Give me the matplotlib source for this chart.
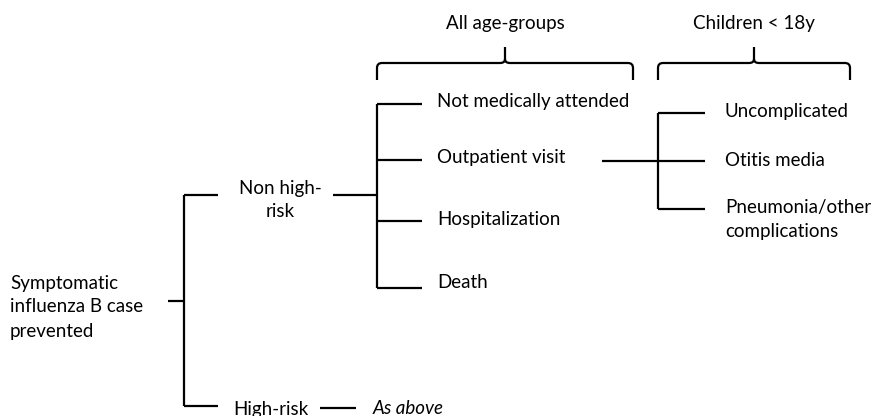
import matplotlib.pyplot as plt
from matplotlib.path import Path
from matplotlib.patches import PathPatch

plt.rcParams['font.family'] = ['Lato', 'DejaVu Sans']

# tree content
root_label = "Symptomatic\ninfluenza B case\nprevented"
risk_labels = ["Non high-\nrisk", "High-risk"]
outcome_labels = ["Not medically attended", "Outpatient visit", "Hospitalization", "Death"]
child_labels = ["Uncomplicated", "Otitis media", "Pneumonia/other\ncomplications"]
high_risk_note = "As above"
group_labels = ["All age-groups", "Children < 18y"]

# layout (pixel coordinates of the 875x416 canvas)
risk_y = [195, 406]
outcome_y = [104, 160, 221, 288]
outcome_text_y = [102, 157, 219, 282]
child_y = [113, 161, 209]
child_text_y = [112, 161, 220]
brace_spans = [(377, 633), (658, 850)]

fig = plt.figure(figsize=(8.75, 4.16), dpi=100)
ax = fig.add_axes([0, 0, 1, 1])
ax.set_xlim(0, 875)
ax.set_ylim(416, 0)
ax.axis('off')

lw = 1.6
fs = 13.5


def line(xs, ys):
    ax.plot(xs, ys, color='black', lw=lw, solid_capstyle='butt')


# root
ax.text(10, 307, root_label, ha='left', va='center', fontsize=fs, linespacing=1.5)
line([168, 184], [301, 301])
line([184, 184], [risk_y[0], risk_y[1]])
for y in risk_y:
    line([184, 218], [y, y])
ax.text(280, 200, risk_labels[0], ha='center', va='center', fontsize=fs, linespacing=1.4)
ax.text(233, 409, risk_labels[1], ha='left', va='center', fontsize=fs)
line([320, 356], [408, 408])
ax.text(373, 409, high_risk_note, ha='left', va='center', fontsize=fs, style='italic')

# outcomes
line([333, 377], [195, 195])
line([377, 377], [outcome_y[0], outcome_y[-1]])
for y, ty, lab in zip(outcome_y, outcome_text_y, outcome_labels):
    line([377, 422], [y, y])
    ax.text(437, ty, lab, ha='left', va='center', fontsize=fs)

# children sub-branch
line([602, 658], [161, 161])
line([658, 658], [child_y[0], child_y[-1]])
for y, ty, lab in zip(child_y, child_text_y, child_labels):
    line([658, 705], [y, y])
    ax.text(725, ty, lab, ha='left', va='center', fontsize=fs, linespacing=1.5)


# braces above the columns
def brace(x0, x1, top=63, bottom=80, tip=47, r=5):
    xm = (x0 + x1) / 2
    verts = [(x0, bottom), (x0, top + r), (x0, top), (x0 + r, top),
             (xm - r, top), (xm, top), (xm, top - 4), (xm, tip),
             (xm, top - 4), (xm, top), (xm + r, top),
             (x1 - r, top), (x1, top), (x1, top + r), (x1, bottom)]
    codes = [Path.MOVETO, Path.LINETO, Path.CURVE3, Path.CURVE3,
             Path.LINETO, Path.CURVE3, Path.CURVE3, Path.LINETO,
             Path.MOVETO, Path.CURVE3, Path.CURVE3,
             Path.LINETO, Path.CURVE3, Path.CURVE3, Path.LINETO]
    ax.add_patch(PathPatch(Path(verts, codes), fill=False, lw=lw, color='black'))
    return xm


for (x0, x1), lab in zip(brace_spans, group_labels):
    xm = brace(x0, x1)
    ax.text(xm, 23, lab, ha='center', va='center', fontsize=fs)

fig.savefig('out.png', dpi=100)
